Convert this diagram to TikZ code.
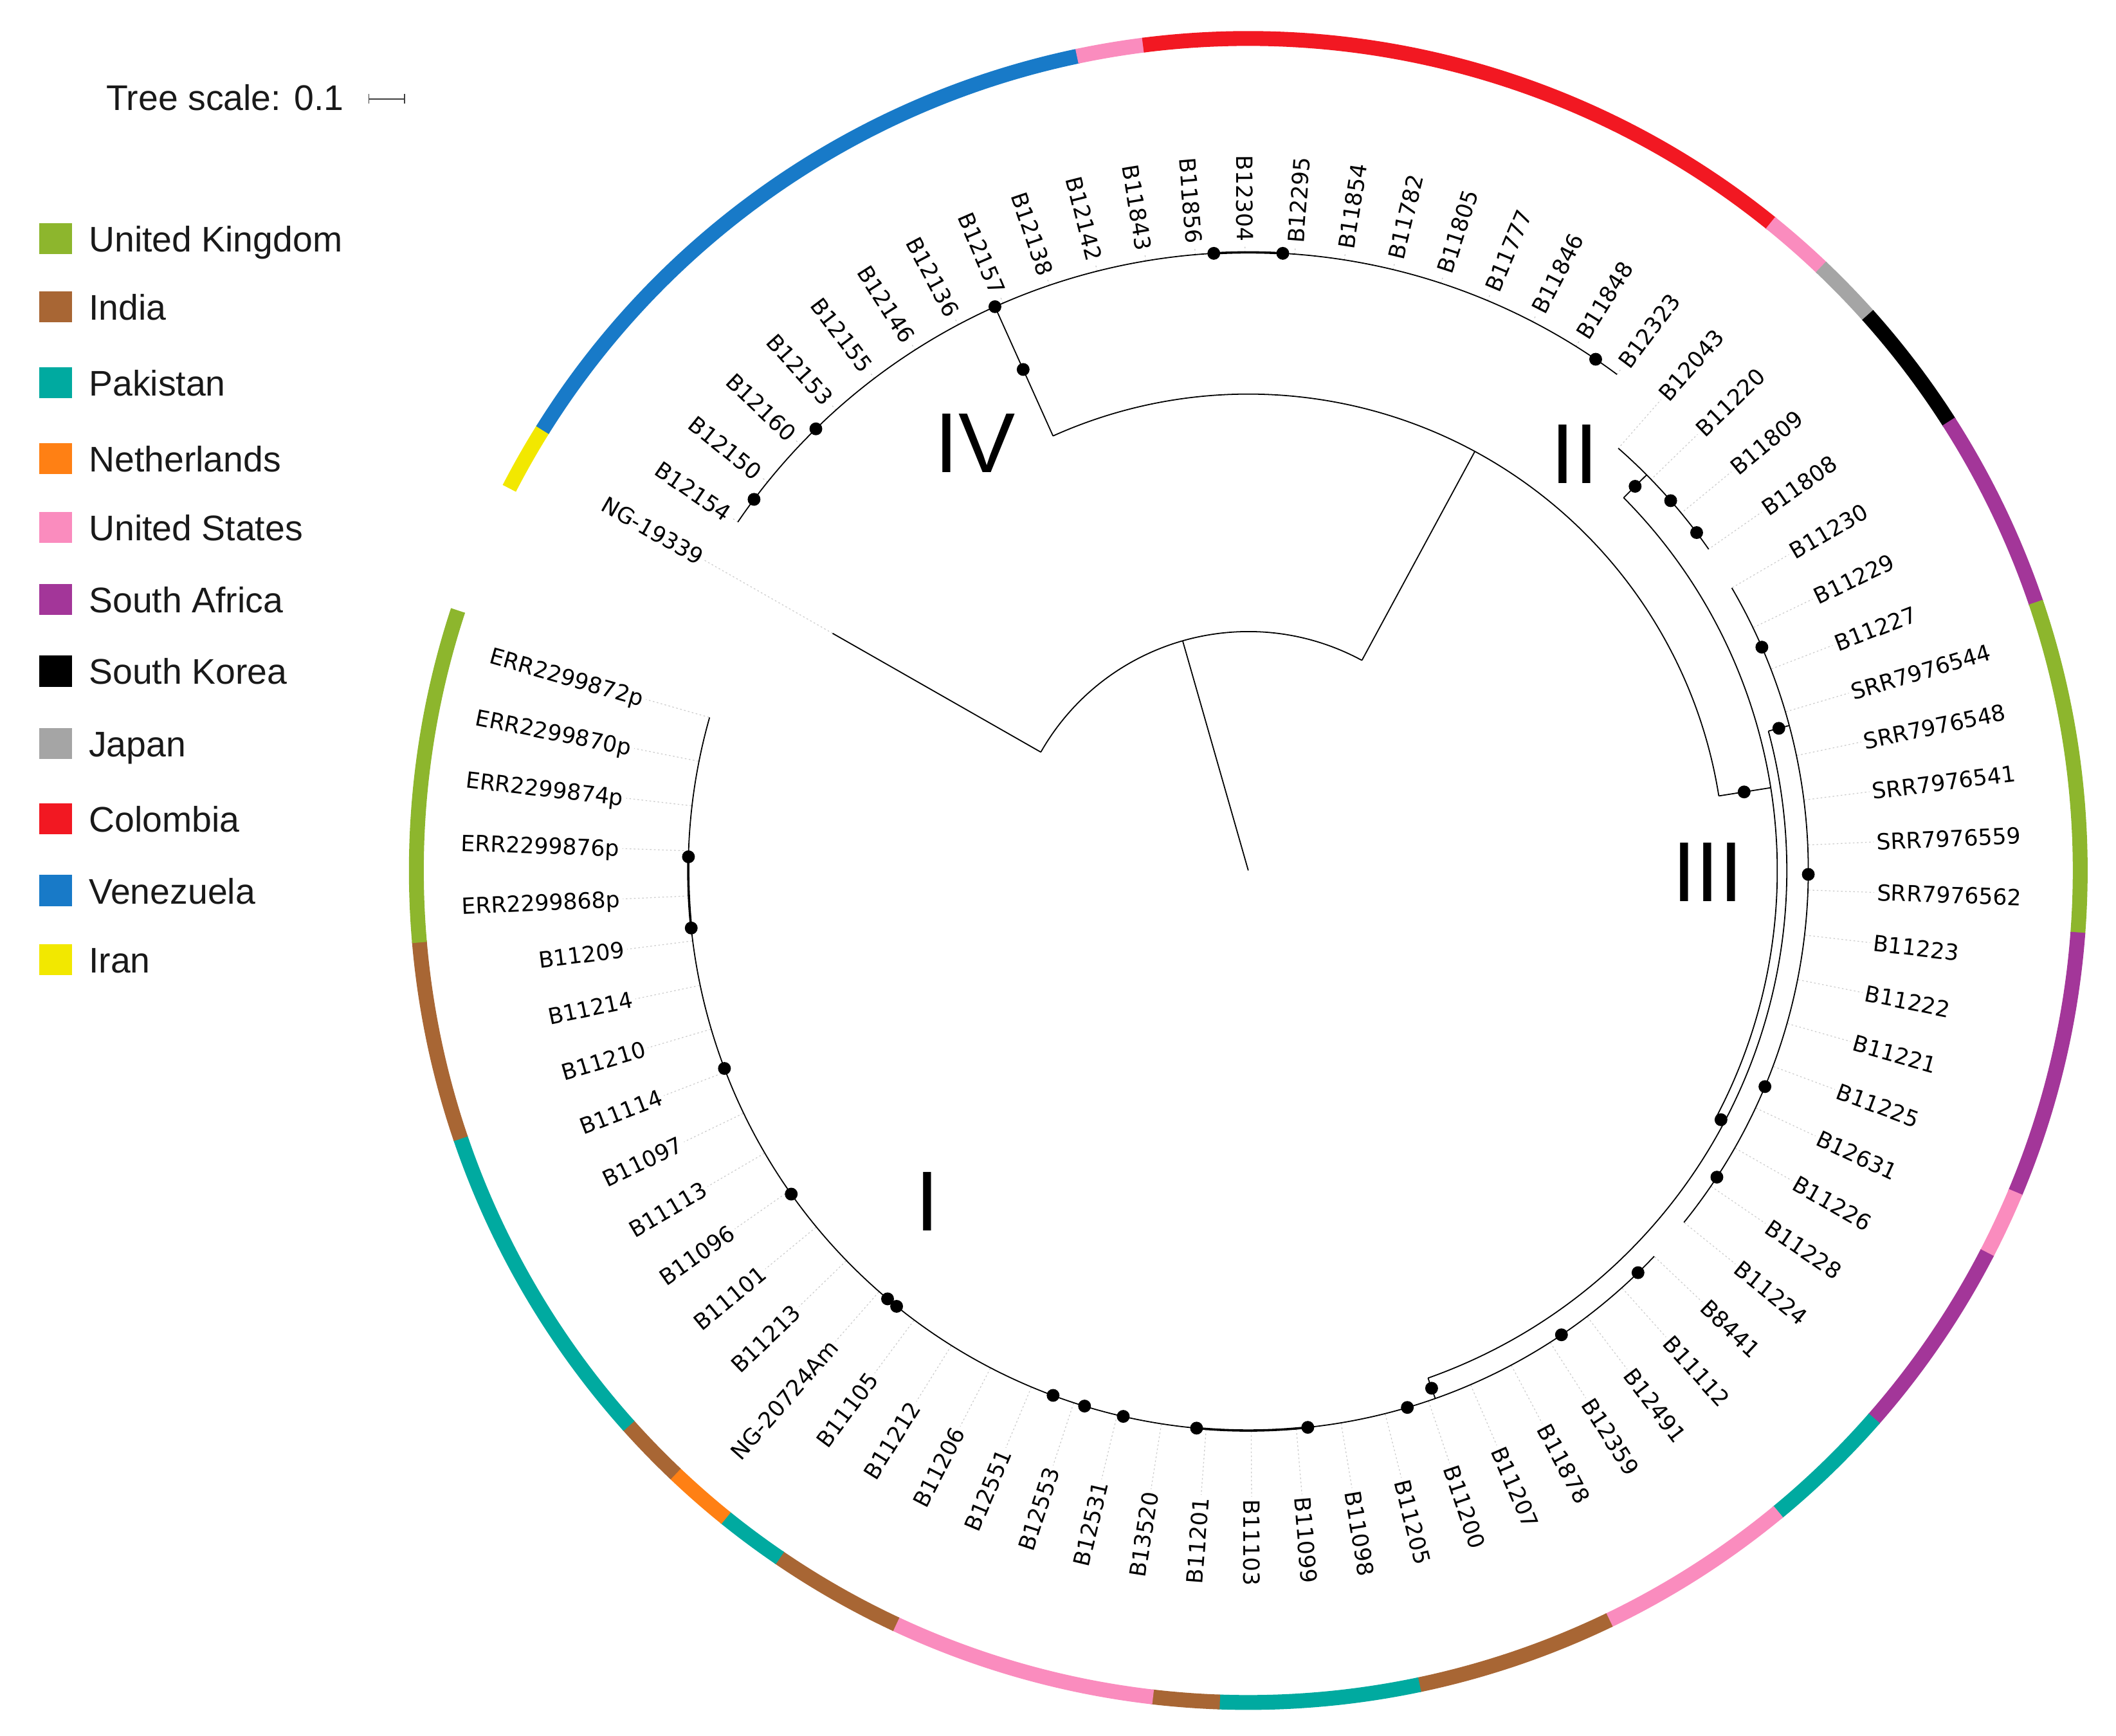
\documentclass[tikz,border=0pt]{standalone}
\usepackage{fontspec}
\setmainfont{Liberation Sans}
\newfontfamily\labfont{DejaVu Sans}
\definecolor{cUK}{RGB}{141,182,45}
\definecolor{cIN}{RGB}{168,102,52}
\definecolor{cPK}{RGB}{0,170,160}
\definecolor{cNL}{RGB}{255,128,20}
\definecolor{cUS}{RGB}{250,140,190}
\definecolor{cZA}{RGB}{163,54,153}
\definecolor{cKR}{RGB}{0,0,0}
\definecolor{cJP}{RGB}{165,165,165}
\definecolor{cCO}{RGB}{242,24,34}
\definecolor{cVE}{RGB}{24,122,200}
\definecolor{cIR}{RGB}{242,232,0}
\def\stp{4.6153846}
\begin{document}
\begin{tikzpicture}[x=1pt,y=1pt,
  br/.style={line width=0.85pt, black},
  heavyseg/.style={line width=1.7pt, black},
  lead/.style={gray!40, line width=0.6pt, dash pattern=on 1.2pt off 1.8pt, shorten >=2pt},
  dotn/.style={circle, fill=black, inner sep=0pt, minimum size=9.5pt},
  lab/.style={font={\labfont\fontsize{16.5}{18}\selectfont}, inner sep=0pt, text height=12pt, text depth=0pt},
  cladelab/.style={font={\fontsize{63}{70}\selectfont}, inner sep=0pt, anchor=base},
  legtxt/.style={font={\fontsize{26.4}{30}\selectfont}, anchor=base west, inner sep=0pt, text=black!90},
  legbox/.style={minimum width=24.4pt, minimum height=23pt, inner sep=0pt}
]
\useasboundingbox (0,0) rectangle (1568,1286);

% ---------------- legend ----------------
\node[legtxt] (ts) at (78.5,1204.1) {Tree scale: 0.1};
\coordinate (s1) at (273.3,1212.7);
\coordinate (s2) at (299.7,1212.7);
\draw[black!75, line width=0.9pt] (s1) -- (s2);
\draw[black!75, line width=0.9pt] ([yshift=-3.5pt]s1) -- ([yshift=3.5pt]s1);
\draw[black!75, line width=0.9pt] ([yshift=-3.5pt]s2) -- ([yshift=3.5pt]s2);
\foreach \yc/\cc/\t in {176.8/cUK/United Kingdom, 227.5/cIN/India, 283.6/cPK/Pakistan,
  339.9/cNL/Netherlands, 390.8/cUS/United States, 444.1/cZA/South Africa,
  497.3/cKR/South Korea, 550.9/cJP/Japan, 606.7/cCO/Colombia, 659.9/cVE/Venezuela,
  711.0/cIR/Iran}{
  \pgfmathsetmacro\yy{1286-\yc}
  \pgfmathsetmacro\yb{1286-\yc-9.8}
  \node[legbox, fill=\cc] (k\cc) at (41.1,\yy) {};
  \node[legtxt] (t\cc) at (65.7,\yb) {\t};
}

% ---------------- clade numerals ----------------
\node[cladelab] (cIV) at (722.5,936) {IV};
\node[cladelab] (cII) at (1167,928) {II};
\node[cladelab] (cIII) at (1265.5,618) {III};
\node[cladelab] (cI) at (687,374) {I};

\begin{scope}[shift={(925,641)}]
% ---------------- colour ring ----------------
\foreach \cc/\a/\b in {cIR/1/1, cVE/2/11, cUS/12/12, cCO/13/22, cUS/23/23, cJP/24/24,
  cKR/25/26, cZA/27/29, cUK/30/34, cZA/35/38, cUS/39/39, cZA/40/42, cPK/43/44,
  cUS/45/47, cIN/48/50, cPK/51/53, cIN/54/54, cUS/55/58, cIN/59/60, cPK/61/61,
  cNL/62/62, cIN/63/63, cPK/64/68, cIN/69/71, cUK/72/76}{
  \pgfmathsetmacro\ta{150.3-(\a-1)*\stp+\stp/2+0.05}
  \pgfmathsetmacro\tb{150.3-(\b-1)*\stp-\stp/2-0.05}
  \fill[\cc] (\ta:611pt) arc[start angle=\ta, end angle=\tb, radius=611pt]
    -- (\tb:622pt) arc[start angle=\tb, end angle=\ta, radius=622pt] -- cycle;
}

% ---------------- labels and leader lines ----------------
\foreach \i/\t in {1/NG-19339, 2/B12154, 3/B12150, 4/B12160, 5/B12153, 6/B12155,
  7/B12146, 8/B12136, 9/B12157, 10/B12138, 11/B12142, 12/B11843, 13/B11856,
  14/B12304, 15/B12295, 16/B11854, 17/B11782, 18/B11805, 19/B11777, 20/B11846,
  21/B11848, 22/B12323, 23/B12043, 24/B11220, 25/B11809, 26/B11808, 27/B11230,
  28/B11229, 29/B11227, 30/SRR7976544, 31/SRR7976548, 32/SRR7976541,
  33/SRR7976559, 34/SRR7976562, 35/B11223, 36/B11222, 37/B11221, 38/B11225,
  39/B12631, 40/B11226, 41/B11228, 42/B11224, 43/B8441, 44/B11112, 45/B12491,
  46/B12359, 47/B11878, 48/B11207, 49/B11200, 50/B11205, 51/B11098, 52/B11099,
  53/B11103, 54/B11201, 55/B13520, 56/B12531, 57/B12553, 58/B12551, 59/B11206,
  60/B11212, 61/B11105, 62/NG-20724Am, 63/B11213, 64/B11101, 65/B11096,
  66/B11113, 67/B11097, 68/B11114, 69/B11210, 70/B11214, 71/B11209,
  72/ERR2299868p, 73/ERR2299876p, 74/ERR2299874p, 75/ERR2299870p, 76/ERR2299872p}{
  \pgfmathsetmacro\th{150.3-(\i-1)*\stp}
  \pgfmathsetmacro\tr{\i==1 ? 354.6 : (\i<=22 ? 458 : 415.5)}
  \pgfmathtruncatemacro\rs{cos(\th)>0 ? 1 : 0}
  \coordinate (T\i) at (\th:\tr pt);
  \ifnum\rs=1
    \node[lab, anchor=west, rotate=\th] (L\i) at (\th:466pt) {\t};
  \else
    \pgfmathsetmacro\thr{\th+180}
    \node[lab, anchor=east, rotate=\thr] (L\i) at (\th:466pt) {\t};
  \fi
  \draw[lead] (T\i) -- (L\i);
}

% ---------------- tree ----------------
\pgfmathsetmacro\aIVs{150.3-\stp}
\pgfmathsetmacro\aIVe{150.3-21*\stp}
\pgfmathsetmacro\aIIs{150.3-22*\stp}
\pgfmathsetmacro\aIIe{150.3-25*\stp}
\pgfmathsetmacro\aIIIs{150.3-26*\stp}
\pgfmathsetmacro\aIIIe{150.3-41*\stp}
\pgfmathsetmacro\aIs{150.3-42*\stp}
\pgfmathsetmacro\aIe{150.3-75*\stp}
\coordinate (root) at (0,0);
\coordinate (n0) at (105.95:177pt);
\coordinate (n0a) at (150.3:177pt);
\coordinate (n0b) at (61.6:177pt);
\draw[br] (root) -- (n0);
\draw[br] (n0a) arc[start angle=150.3, end angle=61.6, radius=177pt];
\draw[br] (n0a) -- (T1);
% node A
\coordinate (nA) at (61.6:353pt);
\coordinate (nAa) at (114.2:353pt);
\coordinate (nAb) at (9:353pt);
\draw[br] (n0b) -- (nA);
\draw[br] (nAa) arc[start angle=114.2, end angle=9, radius=353pt];
% clade IV
\coordinate (nIV) at (114.2:458pt);
\coordinate (nIVa) at (\aIVs:458pt);
\draw[br] (nAa) -- (nIV);
\draw[br] (nIVa) arc[start angle=\aIVs, end angle=\aIVe, radius=458pt];
\draw[heavyseg] (93.2:458pt) arc[start angle=93.2, end angle=86.8, radius=458pt];
% node B
\coordinate (nB) at (9:392pt);
\coordinate (nBa) at (44.8:392pt);
\coordinate (nBb) at (-27.8:392pt);
\draw[br] (nAb) -- (nB);
\draw[br] (nBa) arc[start angle=44.8, end angle=-27.8, radius=392pt];
% clade II
\coordinate (nII) at (44.8:416pt);
\coordinate (nIIa) at (\aIIs:416pt);
\draw[br] (nBa) -- (nII);
\draw[br] (nIIa) arc[start angle=\aIIs, end angle=\aIIe, radius=416pt];
% node E
\coordinate (nE) at (-27.8:399pt);
\coordinate (nEa) at (15:399pt);
\coordinate (nEb) at (-70.5:399pt);
\draw[br] (nBb) -- (nE);
\draw[br] (nEa) arc[start angle=15, end angle=-70.5, radius=399pt];
% clade III
\coordinate (nIII) at (15:415pt);
\coordinate (nIIIa) at (\aIIIs:415pt);
\draw[br] (nEa) -- (nIII);
\draw[br] (nIIIa) arc[start angle=\aIIIs, end angle=\aIIIe, radius=415pt];
% clade I
\coordinate (nI) at (-70.5:415pt);
\coordinate (nIa) at (\aIs:415pt);
\draw[br] (nEb) -- (nI);
\draw[br] (nIa) arc[start angle=\aIs, end angle=\aIe, radius=415pt];
\draw[heavyseg] (-83.9:415pt) arc[start angle=-83.9, end angle=-95.3, radius=415pt];
\draw[heavyseg] (-174.1:415pt) arc[start angle=-174.1, end angle=-181.4, radius=415pt];

% ---------------- support dots ----------------
\foreach \k/\a/\r in {1/143.1/458, 2/134.4/458, 3/114.2/458, 4/114.2/407, 5/93.2/458,
  6/86.8/458, 7/55.8/458, 8/9/372, 9/44.8/404, 10/41.2/416, 11/37.0/416,
  12/-27.8/396, 13/15/407, 14/23.5/415, 15/-0.4/415, 16/-22.7/415, 17/-33.2/415,
  18/-70.5/407, 19/-45.9/415, 20/-56/415, 21/-73.5/415, 22/-83.9/415, 23/-95.3/415,
  24/-102.9/415, 25/-107/415, 26/-110.4/415, 27/-128.9/415, 28/-130.1/415,
  29/-144.7/415, 30/-159.3/415, 31/-174.1/415, 32/-181.4/415}{
  \node[dotn] (dot\k) at (\a:\r pt) {};
}
\end{scope}
\end{tikzpicture}
\end{document}
